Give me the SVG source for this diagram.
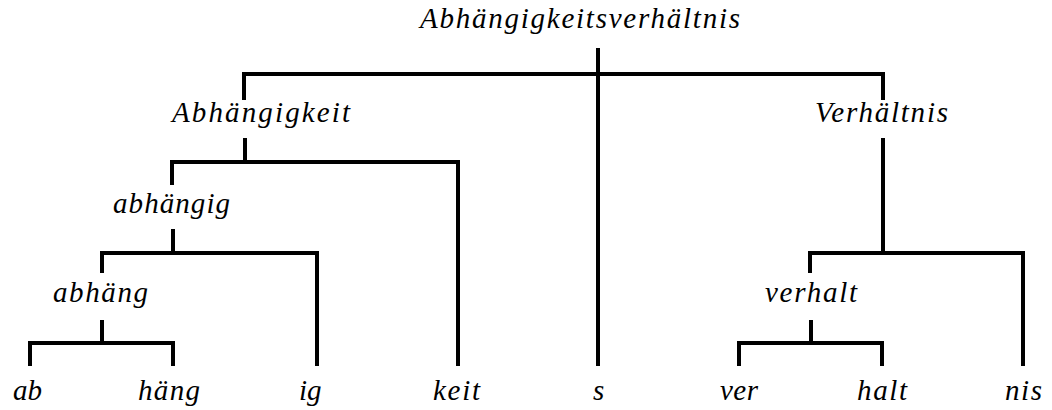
<svg xmlns="http://www.w3.org/2000/svg" width="1052" height="410" viewBox="0 0 1052 410">
<style>
text{font-family:"Liberation Serif","DejaVu Serif",serif;font-style:italic;font-size:29px;fill:#000}
.c{fill:none;stroke:#000;stroke-width:4;stroke-linecap:butt;stroke-linejoin:miter}
</style>
<rect width="1052" height="410" fill="#fff"/>
<g id="connectors" class="c">
<path d="M244,100 V74 H883 V100"/>
<path d="M598,48 V366"/>
<path d="M245,138 V162 M172,185 V162 H458 V366"/>
<path d="M173,229 V253 M102,273 V253 H317 V366"/>
<path d="M102,320 V343 M30,366 V343 H173 V366"/>
<path d="M883,138 V253 M810,273 V253 H1023 V366"/>
<path d="M811,320 V343 M739,366 V343 H882 V366"/>
</g>
<g id="n-root"><text x="420" y="28" textLength="320" lengthAdjust="spacing">Abhängigkeitsverhältnis</text></g>
<g id="n-abhaengigkeit"><text x="172" y="122" textLength="178" lengthAdjust="spacing">Abhängigkeit</text></g>
<g id="n-verhaeltnis"><text x="815" y="122" textLength="133" lengthAdjust="spacing">Verhältnis</text></g>
<g id="n-abhaengig"><text x="113" y="213" textLength="117" lengthAdjust="spacing">abhängig</text></g>
<g id="n-abhaeng"><text x="53" y="302" textLength="95" lengthAdjust="spacing">abhäng</text></g>
<g id="n-verhalt"><text x="765" y="302" textLength="92" lengthAdjust="spacing">verhalt</text></g>
<g id="n-ab"><text x="13" y="400">ab</text></g>
<g id="n-haeng"><text x="138" y="400" textLength="62" lengthAdjust="spacing">häng</text></g>
<g id="n-ig"><text x="299" y="400">ig</text></g>
<g id="n-keit"><text x="433" y="400" textLength="47" lengthAdjust="spacing">keit</text></g>
<g id="n-s"><text x="593" y="400">s</text></g>
<g id="n-ver"><text x="720" y="400" textLength="38" lengthAdjust="spacing">ver</text></g>
<g id="n-halt"><text x="857" y="400" textLength="50" lengthAdjust="spacing">halt</text></g>
<g id="n-nis"><text x="1005" y="400" textLength="37" lengthAdjust="spacing">nis</text></g>
</svg>
